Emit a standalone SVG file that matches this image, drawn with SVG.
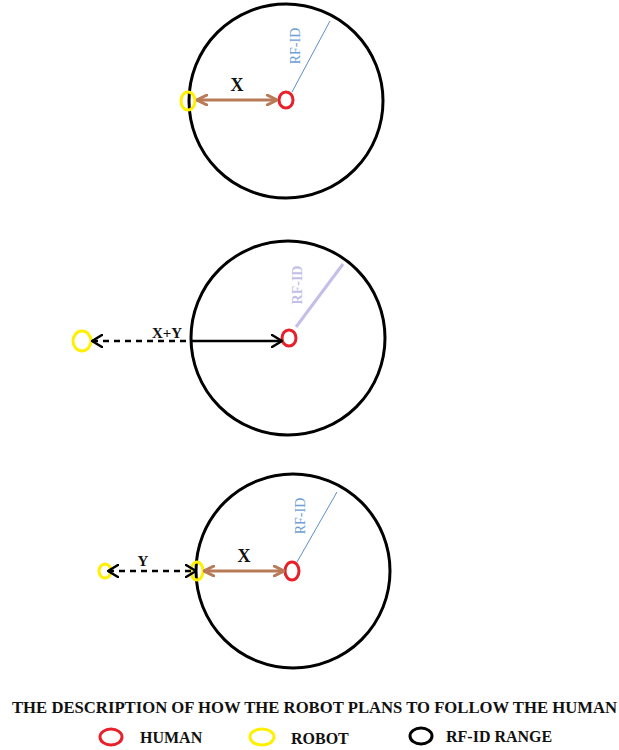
<svg xmlns="http://www.w3.org/2000/svg" width="619" height="750" viewBox="0 0 619 750">
<defs>
<style>
.range{fill:none;stroke:#000;stroke-width:3}
.human{fill:none;stroke:#e8202a;stroke-width:3}
.robot{fill:none;stroke:#ffef00;stroke-width:3}
.lbl{font-family:"Liberation Serif",serif;font-weight:bold;fill:#111}
.rf{font-family:"Liberation Serif",serif;font-size:14px}
.brown{stroke:#b97a57;stroke-width:3;fill:none}
.blk{stroke:#000;stroke-width:2.5;fill:none}
</style>
<marker id="bh" viewBox="0 0 12 12" refX="11" refY="6" markerWidth="12" markerHeight="12" markerUnits="userSpaceOnUse" orient="auto-start-reverse">
<path d="M1,1 L11,6 L1,11" fill="none" stroke="#b97a57" stroke-width="3" stroke-linecap="round"/>
</marker>
<marker id="kh" viewBox="0 0 12 14" refX="11" refY="7" markerWidth="12" markerHeight="14" markerUnits="userSpaceOnUse" orient="auto-start-reverse">
<path d="M1,1 L11,7 L1,13" fill="none" stroke="#000" stroke-width="2.5" stroke-linecap="round"/>
</marker>
</defs>
<rect width="619" height="750" fill="#fff"/>

<g id="scene1">
<circle class="range" cx="286" cy="101" r="97"/>
<line x1="292" y1="92" x2="330" y2="21" stroke="#5b8fc9" stroke-width="1"/>
<text class="rf" fill="#6e9fd6" transform="translate(300,46) rotate(-90)" text-anchor="middle">RF-ID</text>
<ellipse class="human" cx="286" cy="100" rx="7" ry="8"/>
<ellipse class="robot" cx="188" cy="101" rx="7" ry="9"/>
</g>

<g id="scene2">
<circle class="range" cx="288" cy="338" r="97"/>
<line x1="296" y1="327" x2="343" y2="264" stroke="#c3bfe8" stroke-width="3"/>
<text class="rf" fill="#c3bfe8" font-weight="bold" transform="translate(302,285) rotate(-90)" text-anchor="middle">RF-ID</text>
<ellipse class="human" cx="289" cy="338" rx="7" ry="8"/>
<ellipse class="robot" cx="82" cy="341" rx="9" ry="10"/>
</g>

<g id="scene3">
<circle class="range" cx="293" cy="571" r="97"/>
<line x1="297" y1="562" x2="337" y2="492" stroke="#5b8fc9" stroke-width="1"/>
<text class="rf" fill="#6e9fd6" transform="translate(305,516) rotate(-90)" text-anchor="middle">RF-ID</text>
<ellipse class="human" cx="292" cy="571" rx="7" ry="9"/>
<ellipse class="robot" cx="197" cy="571" rx="6" ry="9"/>
<ellipse class="robot" cx="105" cy="571" rx="6" ry="7"/>
</g>

<g id="connectors">
<line class="brown" x1="197" y1="100" x2="277" y2="100" marker-start="url(#bh)" marker-end="url(#bh)"/>
<line class="blk" x1="92" y1="341" x2="190" y2="341" stroke-dasharray="6,5" marker-start="url(#kh)"/>
<line class="blk" x1="190" y1="341" x2="282" y2="341" marker-end="url(#kh)"/>
<line class="brown" x1="204" y1="571" x2="284" y2="571" marker-start="url(#bh)" marker-end="url(#bh)"/>
<line class="blk" x1="108" y1="571" x2="196" y2="571" stroke-dasharray="6,5" marker-start="url(#kh)" marker-end="url(#kh)"/>
</g>

<g id="labels">
<text class="lbl" x="237" y="91" font-size="18" text-anchor="middle">X</text>
<text class="lbl" x="167" y="338" font-size="15" text-anchor="middle">X+Y</text>
<text class="lbl" x="244" y="562" font-size="18" text-anchor="middle">X</text>
<text class="lbl" x="143" y="566" font-size="15" text-anchor="middle">Y</text>
</g>

<g id="legend">
<text class="lbl" x="12" y="713" font-size="16" textLength="605" lengthAdjust="spacingAndGlyphs">THE DESCRIPTION OF HOW THE ROBOT PLANS TO FOLLOW THE HUMAN</text>
<ellipse class="human" cx="111" cy="737" rx="11" ry="8"/>
<text class="lbl" x="140" y="743" font-size="16">HUMAN</text>
<ellipse class="robot" cx="262" cy="737" rx="12" ry="8"/>
<text class="lbl" x="291" y="744" font-size="16">ROBOT</text>
<ellipse class="range" cx="421" cy="736" rx="11" ry="8"/>
<text class="lbl" x="446" y="742" font-size="16">RF-ID RANGE</text>
</g>
</svg>
